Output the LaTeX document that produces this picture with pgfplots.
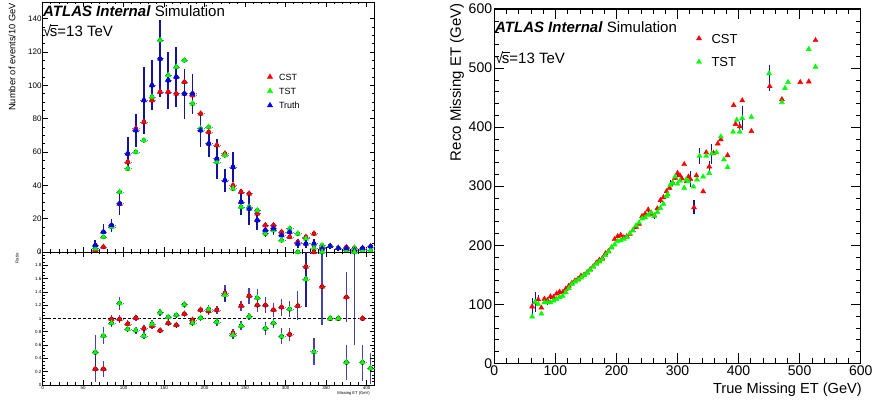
\documentclass[border=0pt]{standalone}
\usepackage{fontspec}
\setmainfont{Liberation Sans}
\usepackage{pgfplots}
\usepackage{pgfplotstable}
\pgfplotsset{compat=1.18}

\definecolor{rootred}{RGB}{255,0,0}
\definecolor{rootgreen}{RGB}{0,255,0}
\definecolor{rootblue}{RGB}{0,0,255}
\definecolor{errnavy}{RGB}{20,20,150}
\definecolor{binblue}{RGB}{110,110,230}

\newcommand{\sqrts}{√\kern-0.1em\rlap{\rule[0.74em]{0.52em}{0.07em}}s}

% Missing ET spectrum, 10 GeV bins: truth (t, error te), CST (c), TST (s)
\pgfplotstableread{
x    t    te   c    s
65   4    3    1    2
75   12   4.5  3    9
85   16   4    16   15
95   29   7    29   36
105  59   10   54   50
115  73   10   74   60
125  91   20   78   67
135  100  15   91   93
145  116  23   96   127
155  103  17   96   106
165  105  18   95   111
175  95   15   102  115
185  95   12   94   89
195  73   10   83   74
205  65   8    72   75
215  56   12   64   54
225  43   7    59   58
235  51   9    40   38
245  30   8    36   27
255  26   10   35   27
265  19   6    23   25
275  13   4    16   11
285  14   4    16   13
295  10   3    12   7
305  12   3.5  9    14
315  5    2.5  6    11
325  5    2.5  9    8
335  5    2.5  11   2.5
345  2    1.5  3    4
355  3.5  1.5  3.5  3.5
365  2.3  1.5  2.3  2.3
375  2.2  1.5  2.9  0.8
385  1    1    2.5  2.3
395  2.3  1.5  2.3  0.8
405  3.3  1.5  nan  0.8
}\histtable

% Ratio to truth, values above 2 shown at the frame edge
\pgfplotstableread{
x    c     cp    cm    s     sp    sm
65   0.24  0.20  0.20  0.49  0.26  0.26
75   0.24  0.12  0.12  0.74  0.13  0.13
85   0.99  0.06  0.06  0.93  0.06  0.06
95   0.99  0.06  0.06  1.23  0.10  0.10
105  0.92  0.05  0.05  0.84  0.05  0.05
115  1.01  0.05  0.05  0.82  0.05  0.05
125  0.85  0.05  0.05  0.74  0.05  0.05
135  0.89  0.05  0.05  0.92  0.05  0.05
145  0.82  0.04  0.04  1.09  0.05  0.05
155  0.93  0.05  0.05  1.02  0.05  0.05
165  0.90  0.05  0.05  1.05  0.05  0.05
175  1.07  0.05  0.05  1.21  0.05  0.05
185  0.98  0.05  0.05  0.93  0.05  0.05
195  1.13  0.05  0.05  1.01  0.05  0.05
205  1.11  0.06  0.06  1.14  0.06  0.06
215  1.13  0.06  0.06  0.95  0.06  0.06
225  1.38  0.12  0.12  1.35  0.10  0.10
235  0.78  0.06  0.06  0.75  0.06  0.06
245  1.19  0.08  0.08  0.89  0.07  0.07
255  1.34  0.12  0.12  1.03  0.06  0.06
265  1.20  0.10  0.10  1.31  0.13  0.13
275  1.20  0.12  0.12  0.85  0.10  0.10
285  1.13  0.10  0.10  0.93  0.08  0.08
295  1.17  0.13  0.13  0.73  0.12  0.12
305  0.76  0.10  0.10  1.14  0.12  0.12
315  1.19  0.22  0.22  2.00  0     0
325  1.78  0.22  0.60  1.59  0.41  0.41
335  2.00  0     0     0.50  0.20  0.20
345  1.48  0.52  0.58  2.00  0     0
355  1.00  0     0     1.00  0     0
365  1.00  0     0     1.00  0     0
375  1.32  0.38  0.38  0.34  0.26  0.26
385  2.00  0     1.40  2.00  0     0
395  1.00  0     0     0.34  0.26  0.28
405  nan   0     0     0.25  0.23  0.23
}\ratiotable

% Reco vs true missing ET profiles
\pgfplotstableread{
x    y    e
62   96   15
67   103  0
72   108  7
77   94   0
82   109  5
87   107  0
92   113  4
97   112  0
102  118  0
107  121  3
112  120  0
117  126  0
122  131  0
127  136  0
132  140  0
137  143  0
142  148  0
147  150  0
152  154  0
157  159  0
162  164  0
167  170  0
172  175  0
177  178  0
182  186  0
187  190  0
192  196  0
197  210  0
202  215  0
207  217  0
212  213  0
217  215  0
222  219  0
227  225  0
232  231  4
237  236  0
242  249  0
247  253  0
252  260  5
257  253  0
262  250  5
267  262  0
272  276  4
277  281  0
282  291  5
287  297  0
292  306  5
296  314  4
300  322  6
304  318  0
307  313  5
311  337  0
315  308  0
318  316  0
321  312  14
327  264  12
331  318  0
342  291  0
347  357  0
352  333  10
359  356  0
366  372  0
371  379  0
382  352  0
392  437  0
395  405  0
402  401  8
406  445  0
421  393  0
451  469  8
471  447  0
501  476  0
515  477  0
526  547  0
}\csttable

\pgfplotstableread{
x    y    e
62   79   0
67   104  17
72   100  0
77   84   0
82   103  0
87   103  4
92   103  0
97   106  0
102  109  0
107  112  0
112  114  0
117  120  0
122  127  0
127  134  0
132  138  0
137  141  0
142  145  0
147  149  0
152  153  0
157  158  0
162  163  0
167  168  0
172  172  0
177  176  0
182  183  0
187  189  0
192  196  0
197  201  0
202  207  0
207  208  0
212  210  0
217  213  0
222  220  0
227  225  0
232  233  0
237  238  0
242  245  0
247  247  0
252  251  0
257  255  0
262  250  4
267  256  0
272  263  0
277  270  0
282  283  0
284  286  0
288  302  8
292  305  0
296  316  0
300  304  0
304  309  0
311  297  0
314  311  0
318  308  0
326  299  0
332  311  0
336  351  14
342  316  0
347  351  0
352  322  0
356  355  17
364  357  0
371  384  0
376  345  0
382  332  0
391  392  0
397  412  0
402  392  0
406  415  20
421  417  0
450  491  15
471  442  0
476  466  0
481  476  0
515  532  0
526  502  0
}\tsttable

\pgfplotsset{
  rootframe/.style={
    scale only axis, clip=false, tick align=inside,
    axis line style={line width=0.8pt},
    every tick/.style={black, line width=0.6pt},
    /pgf/number format/assume math mode=true,
  },
  tri/.style={only marks, mark=triangle*, mark size=3.1pt, color=#1},
  % legend entry: a single marker followed by an empty gap of #1
  markonly legend/.style={
    legend image code/.code={\draw[mark repeat=2,mark phase=2]
      plot coordinates {(0pt,0pt) (3pt,0pt) (6pt,0pt)};
      \path[draw=none, fill=none] (0pt,0pt) rectangle (#1,0.1pt);},
  },
  % half-bin horizontal bars drawn around the markers
  binwidth/.style={only marks, mark=none, forget plot,
    error bars/.cd, x dir=both, x fixed=4.5, error mark=none,
    error bar style={draw=binblue, line width=0.5pt, densely dotted}},
}

\begin{document}
\begin{tikzpicture}
\path[use as bounding box] (0pt,0pt) rectangle (872pt,406pt);

% ---------------- spectrum ----------------
\begin{axis}[rootframe,
  at={(42.7pt,154pt)}, anchor=south west,
  width=332pt, height=250pt,
  xmin=0, xmax=410, ymin=0, ymax=150,
  xtick={0,50,...,400}, xticklabels={}, minor x tick num=4,
  ytick={0,20,...,140}, minor y tick num=3,
  major tick length=5pt, minor tick length=2.5pt,
  yticklabel style={font=\fontsize{8}{8}\selectfont, inner sep=1pt},
  markonly legend=10.5pt,
  legend cell align=left,
  legend style={draw=none, fill=none, at={(axis description cs:0.675,0.72)},
    anchor=north west, inner sep=0pt, row sep=4.6pt,
    font=\fontsize{9}{9}\selectfont,
    nodes={inner sep=1.5pt, text height=6.6pt, text depth=0pt}},
]
\addplot[only marks, mark=none, forget plot,
  error bars/.cd, y dir=both, y explicit, error mark=none,
  error bar style={draw=errnavy, line width=1.7pt}]
  table[x=x, y=t, y error=te] {\histtable};
\addplot[binwidth] table[x=x, y=c] {\histtable};
\addplot[binwidth] table[x=x, y=s] {\histtable};
\addplot[binwidth] table[x=x, y=t] {\histtable};
\addplot[tri=rootred]   table[x=x, y=c] {\histtable};
\addlegendentry{CST}
\addplot[tri=rootgreen] table[x=x, y=s] {\histtable};
\addlegendentry{TST}
\addplot[tri=rootblue]  table[x=x, y=t] {\histtable};
\addlegendentry{Truth}
\end{axis}

% ---------------- ratio ----------------
\begin{axis}[rootframe,
  at={(42.7pt,21pt)}, anchor=south west,
  width=332pt, height=133pt,
  xmin=0, xmax=410, ymin=0, ymax=2,
  xtick={0,50,...,400}, minor x tick num=4,
  xticklabels={0,50,100,150,200,250,300,350,400},
  ytick={0,0.2,0.4,0.6,0.8,1,1.2,1.4,1.6,1.8,2},
  yticklabels={0,0.2,0.4,0.6,0.8,1,1.2,1.4,1.6,1.8,2},
  minor y tick num=3,
  major tick length=5pt, minor tick length=2.5pt,
  ticklabel style={font=\fontsize{4.5}{4.5}\selectfont, inner sep=1pt},
]
\addplot[black, dashed, line width=0.7pt, dash pattern=on 3pt off 2pt]
  coordinates {(0,1) (410,1)};
\addplot[only marks, mark=none,
  error bars/.cd, y dir=both, y explicit, error mark=none,
  error bar style={draw=errnavy, line width=1.4pt, opacity=0.8}]
  table[x=x, y=c, y error plus=cp, y error minus=cm] {\ratiotable};
\addplot[only marks, mark=none,
  error bars/.cd, y dir=both, y explicit, error mark=none,
  error bar style={draw=errnavy, line width=1.4pt, opacity=0.8}]
  table[x=x, y=s, y error plus=sp, y error minus=sm] {\ratiotable};
\addplot[binwidth] table[x=x, y=c] {\ratiotable};
\addplot[binwidth] table[x=x, y=s] {\ratiotable};
\addplot[tri=rootred]   table[x=x, y=c] {\ratiotable};
\addplot[tri=rootgreen] table[x=x, y=s] {\ratiotable};
\end{axis}

% ---------------- reco vs true ----------------
\begin{axis}[rootframe,
  at={(494.3pt,42.7pt)}, anchor=south west,
  width=366.4pt, height=354.3pt,
  xmin=0, xmax=600, ymin=0, ymax=600,
  xtick={0,100,...,600}, ytick={0,100,...,600},
  minor x tick num=4, minor y tick num=4,
  axis line style={line width=1.2pt},
  major tick length=10pt, minor tick length=5pt,
  ticklabel style={font=\fontsize{14}{14}\selectfont, inner sep=2pt},
  markonly legend=14pt,
  legend cell align=left,
  legend style={draw=none, fill=none, at={(axis description cs:0.55,0.935)},
    anchor=north west, inner sep=0pt, row sep=11pt,
    font=\fontsize{13}{13}\selectfont,
    nodes={inner sep=1.5pt, text height=9.4pt, text depth=0pt}},
]
\addplot[tri=rootred, mark size=2.9pt,
  error bars/.cd, y dir=both, y explicit, error mark=none,
  error bar style={draw=errnavy, line width=1.1pt}]
  table[x=x, y=y, y error=e] {\csttable};
\addlegendentry{CST}
\addplot[tri=rootgreen, mark size=2.9pt,
  error bars/.cd, y dir=both, y explicit, error mark=none,
  error bar style={draw=errnavy, line width=1.1pt}]
  table[x=x, y=y, y error=e] {\tsttable};
\addlegendentry{TST}
\end{axis}

% ---------------- texts ----------------
\node[anchor=base west, inner sep=0pt, font=\fontsize{15}{15}\selectfont]
  at (43pt,389.3pt) {\textbf{\textit{ATLAS Internal}} Simulation};
\node[anchor=base west, inner sep=0pt, font=\fontsize{15}{15}\selectfont]
  at (43pt,369.3pt) {\sqrts=13 TeV};
\node[anchor=base west, inner sep=0pt, font=\fontsize{15}{15}\selectfont]
  at (495pt,373.7pt) {\textbf{\textit{ATLAS Internal}} Simulation};
\node[anchor=base west, inner sep=0pt, font=\fontsize{15}{15}\selectfont]
  at (495pt,342pt) {\sqrts=13 TeV};

\node[rotate=90, anchor=east, inner sep=0pt, font=\fontsize{9.3}{9.3}\selectfont]
  at (12pt,403pt) {Number of events/10 GeV};
\node[rotate=90, anchor=east, inner sep=0pt, font=\fontsize{4.3}{4.3}\selectfont]
  at (17pt,153pt) {Ratio};
\node[anchor=base east, inner sep=0pt, font=\fontsize{4.1}{4.1}\selectfont]
  at (370pt,11.5pt) {Missing ET (GeV)};

\node[rotate=90, anchor=east, inner sep=0pt, font=\fontsize{15}{15}\selectfont]
  at (457pt,402.7pt) {Reco Missing ET (GeV)};
\node[anchor=base east, inner sep=0pt, font=\fontsize{14.6}{14.6}\selectfont]
  at (862pt,12.7pt) {True Missing ET (GeV)};
\end{tikzpicture}
\end{document}
